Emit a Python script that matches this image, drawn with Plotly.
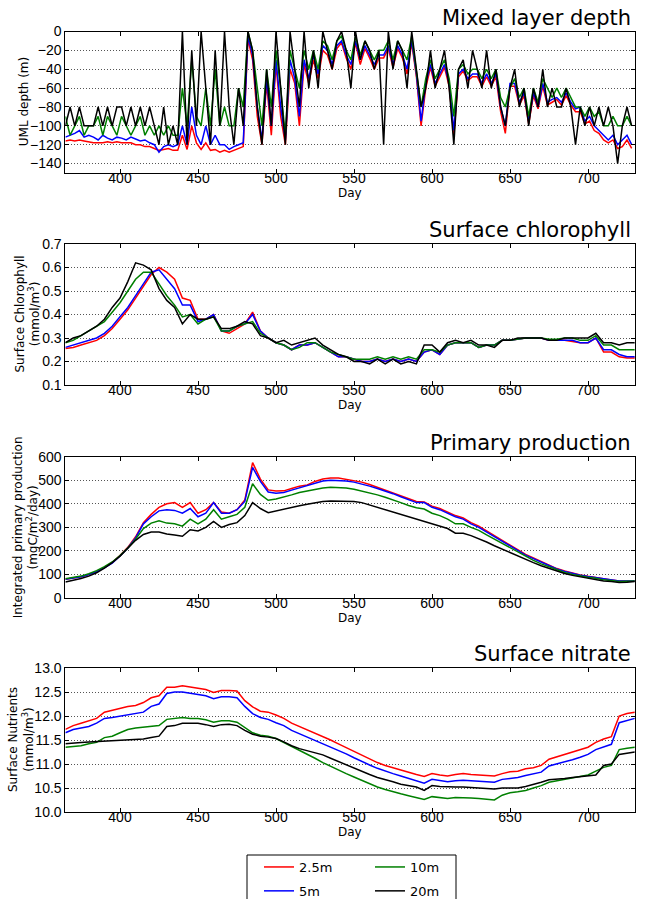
import plotly.graph_objects as go

# ---------------- data ----------------
depth_names = ["2.5m", "5m", "10m", "20m"]
depth_colors = ["#ff0000", "#0000ff", "#008000", "#000000"]

mld_days = list(range(365, 729, 3))      # 122 samples
mld_25 = [-116,-115,-116,-115,-116,-117,-118,-118,-118,-117,-118,-117,-118,-118,-118,-120,-120,-122,-122,-124,-126,-125,-124,-126,-126,
          -110,-125,-100,-118,-125,-118,-126,-125,-128,-126,-128,-126,-124,-122,
          -8,-30,-90,-120,-55,-110,-35,-90,-120,-40,-55,-100,-35,-55,-30,-50,-20,
          -25,-40,-18,-12,-28,-40,-12,-35,-18,-28,-40,-28,-28,-18,-38,-18,-28,-45,-12,
          -48,-100,-60,-38,-58,-48,-38,-58,-110,-48,-42,-52,-48,-48,-58,-48,-58,-48,-85,-108,
          -58,-58,-78,-68,-98,-68,-82,-58,-78,-75,-72,-78,-68,-78,
          -85,-85,-98,-95,-105,-108,-115,-118,-115,-124,-122,-115,-124]
mld_5 = [-112,-110,-108,-105,-112,-110,-112,-115,-110,-113,-115,-112,-113,-115,-112,-114,-116,-115,-118,-120,-128,-122,-120,-122,-120,
         -100,-120,-80,-110,-120,-100,-120,-110,-120,-120,-125,-122,-120,-118,
         -5,-25,-80,-115,-50,-100,-30,-80,-115,-30,-50,-90,-30,-50,-25,-45,-15,
         -20,-35,-15,-10,-25,-35,-10,-30,-15,-25,-35,-25,-25,-15,-35,-15,-25,-40,-10,
         -45,-95,-55,-35,-55,-45,-35,-55,-105,-45,-40,-50,-45,-45,-55,-45,-55,-45,-80,-100,
         -55,-55,-75,-65,-95,-65,-80,-55,-75,-72,-70,-75,-65,-75,
         -82,-80,-95,-90,-100,-105,-110,-115,-110,-120,-115,-110,-120]
mld_10 = [-90,-110,-100,-90,-110,-100,-100,-90,-110,-90,-100,-110,-90,-100,-110,-100,-90,-110,-100,-110,-100,-110,-100,-110,-110,
          -60,-100,-30,-90,-100,-60,-100,-40,-100,-80,-100,-100,-60,-80,
          0,-20,-60,-100,-40,-80,-20,-60,-110,-20,-40,-60,-20,-40,-20,-40,-10,
          -15,-30,-10,-5,-20,-30,-5,-25,-10,-20,-30,-20,-20,-10,-30,-10,-20,-30,-5,
          -40,-80,-50,-30,-50,-40,-30,-50,-90,-40,-35,-45,-40,-40,-50,-40,-50,-40,-70,-80,
          -60,-50,-70,-60,-90,-60,-75,-50,-60,-70,-60,-70,-60,-70,
          -80,-80,-90,-80,-90,-85,-100,-100,-90,-100,-100,-90,-100]
mld_20 = [-100,-80,-100,-80,-100,-100,-100,-80,-100,-80,-100,-80,-80,-100,-80,-100,-80,-100,-80,-100,-120,-80,-120,-100,-120,
          0,-120,-20,-100,0,-60,-120,-20,-100,0,-80,-120,-60,-100,
          0,-20,-80,-120,-40,-100,0,-60,-120,0,-40,-80,0,-60,-20,-60,0,
          -20,-40,-10,0,-20,-60,0,-30,-10,-20,-40,-20,-120,0,-40,-10,-20,-60,0,
          -40,-80,-60,-20,-60,-40,-20,-60,-120,-40,-30,-60,-20,-40,-60,-20,-60,-40,-80,-100,
          -60,-40,-80,-60,-100,-60,-80,-40,-80,-60,-80,-80,-60,-80,
          -120,-80,-100,-80,-100,-80,-100,-80,-100,-140,-100,-80,-100]

days = list(range(365, 731, 5))          # 74 samples
chl_25 = [0.255,0.26,0.27,0.28,0.29,0.31,0.34,0.38,0.42,0.47,
          0.52,0.57,0.60,0.58,0.55,0.47,0.46,0.38,0.38,0.40,
          0.33,0.32,0.34,0.36,0.41,0.33,0.30,0.28,0.27,0.25,
          0.27,0.27,0.28,0.26,0.24,0.22,0.22,0.21,0.20,0.20,
          0.21,0.20,0.21,0.20,0.21,0.20,0.24,0.25,0.23,0.27,
          0.28,0.28,0.28,0.26,0.27,0.27,0.29,0.29,0.295,0.30,
          0.30,0.30,0.29,0.29,0.29,0.285,0.28,0.28,0.30,0.24,
          0.24,0.22,0.215,0.215]
chl_5 = [0.26,0.27,0.28,0.29,0.30,0.32,0.35,0.39,0.43,0.48,
         0.53,0.58,0.59,0.55,0.51,0.44,0.44,0.37,0.38,0.40,
         0.33,0.33,0.35,0.36,0.40,0.33,0.30,0.28,0.27,0.25,
         0.27,0.27,0.28,0.26,0.24,0.22,0.22,0.21,0.20,0.20,
         0.21,0.20,0.21,0.20,0.21,0.20,0.24,0.25,0.23,0.27,
         0.28,0.28,0.28,0.26,0.27,0.27,0.29,0.29,0.295,0.30,
         0.30,0.30,0.29,0.29,0.29,0.29,0.28,0.28,0.30,0.25,
         0.25,0.23,0.22,0.22]
chl_10 = [0.28,0.29,0.31,0.33,0.35,0.37,0.41,0.45,0.50,0.55,
          0.58,0.58,0.53,0.48,0.44,0.39,0.40,0.36,0.38,0.39,
          0.33,0.33,0.35,0.36,0.37,0.32,0.30,0.28,0.27,0.25,
          0.26,0.28,0.28,0.26,0.24,0.23,0.22,0.21,0.21,0.21,
          0.22,0.21,0.22,0.21,0.22,0.21,0.25,0.25,0.24,0.27,
          0.28,0.28,0.28,0.26,0.27,0.27,0.29,0.29,0.295,0.30,
          0.30,0.30,0.295,0.295,0.30,0.30,0.29,0.29,0.31,0.27,
          0.27,0.25,0.25,0.25]
chl_20 = [0.28,0.30,0.31,0.33,0.35,0.38,0.43,0.47,0.54,0.62,
          0.61,0.59,0.51,0.46,0.43,0.36,0.40,0.38,0.38,0.39,
          0.34,0.34,0.35,0.37,0.36,0.31,0.30,0.28,0.29,0.27,
          0.28,0.29,0.30,0.27,0.25,0.23,0.22,0.20,0.20,0.19,
          0.21,0.19,0.21,0.19,0.20,0.19,0.27,0.27,0.24,0.28,
          0.29,0.28,0.29,0.27,0.27,0.26,0.29,0.29,0.30,0.30,
          0.30,0.30,0.29,0.29,0.30,0.30,0.30,0.30,0.32,0.28,
          0.28,0.27,0.28,0.28]

pp_25 = [80,85,90,100,112,130,150,180,215,260,
         320,355,385,400,405,385,405,360,375,405,
         365,360,375,416,575,505,459,454,455,465,
         475,480,495,505,510,510,505,500,492,482,
         470,460,448,435,422,410,408,390,380,365,
         350,340,320,305,285,265,245,225,205,185,
         170,155,140,125,115,105,98,92,88,82,
         77,72,72,72]
pp_5 = [80,85,90,100,112,128,148,178,212,255,
        315,345,370,375,372,360,380,345,360,405,
        360,360,375,410,555,495,450,445,448,458,
        468,475,488,497,500,500,497,492,485,475,
        465,455,443,430,418,405,405,385,375,360,
        345,335,315,300,280,260,240,220,200,182,
        167,152,138,123,113,104,97,91,87,80,
        76,72,72,72]
pp_10 = [82,87,93,103,116,133,153,180,212,250,
         295,318,328,318,315,305,335,315,335,375,
         335,345,355,385,485,440,415,420,428,438,
         448,455,462,467,470,470,467,462,455,447,
         438,428,418,405,393,383,378,360,350,335,
         315,315,300,287,268,250,230,212,193,176,
         160,145,132,118,108,100,93,88,84,77,
         74,70,71,72]
pp_20 = [68,75,83,93,107,127,150,178,210,245,
         270,280,280,272,268,262,290,285,300,325,
         300,312,320,350,405,380,362,370,378,385,
         392,398,405,410,412,412,412,410,405,395,
         385,375,365,355,345,335,325,315,305,295,
         275,275,265,252,238,222,207,192,178,163,
         150,137,125,113,104,96,90,84,80,72,
         70,66,67,70]

no3_25 = [11.72,11.80,11.85,11.90,11.95,12.08,12.12,12.15,12.20,12.22,
          12.28,12.38,12.42,12.60,12.60,12.63,12.60,12.58,12.55,12.49,
          12.53,12.53,12.52,12.32,12.19,12.10,12.08,12.02,11.95,11.85,
          11.78,11.72,11.65,11.58,11.50,11.42,11.34,11.26,11.18,11.10,
          11.03,10.97,10.92,10.87,10.83,10.78,10.74,10.80,10.77,10.75,
          10.78,10.80,10.78,10.77,10.76,10.75,10.80,10.84,10.85,10.90,
          10.92,10.97,11.10,11.15,11.20,11.25,11.30,11.35,11.45,11.52,
          11.57,12.00,12.05,12.08]
no3_5 = [11.65,11.72,11.75,11.78,11.85,11.95,11.97,12.00,12.02,12.05,
         12.08,12.20,12.25,12.47,12.50,12.50,12.47,12.45,12.42,12.36,
         12.40,12.40,12.38,12.20,12.05,11.97,11.93,11.86,11.80,11.70,
         11.63,11.57,11.50,11.43,11.36,11.29,11.21,11.13,11.05,10.98,
         10.91,10.85,10.80,10.75,10.70,10.65,10.60,10.68,10.66,10.63,
         10.65,10.66,10.65,10.64,10.63,10.62,10.68,10.70,10.72,10.76,
         10.79,10.83,10.96,11.00,11.04,11.09,11.14,11.20,11.30,11.36,
         11.41,11.86,11.91,11.95]
no3_10 = [11.35,11.37,11.38,11.42,11.45,11.55,11.58,11.65,11.72,11.75,
          11.77,11.78,11.80,11.93,11.95,11.97,11.95,11.95,11.92,11.87,
          11.90,11.90,11.87,11.76,11.65,11.60,11.58,11.53,11.45,11.37,
          11.29,11.21,11.12,11.03,10.95,10.88,10.80,10.73,10.66,10.60,
          10.52,10.47,10.42,10.38,10.34,10.30,10.26,10.32,10.30,10.28,
          10.30,10.30,10.29,10.28,10.27,10.25,10.35,10.40,10.42,10.45,
          10.50,10.55,10.62,10.65,10.68,10.72,10.75,10.77,10.85,10.93,
          10.97,11.30,11.33,11.35]
no3_20 = [11.42,11.44,11.45,11.46,11.47,11.48,11.49,11.50,11.50,11.51,
          11.52,11.55,11.58,11.78,11.80,11.85,11.85,11.85,11.82,11.78,
          11.82,11.83,11.80,11.70,11.62,11.58,11.56,11.53,11.46,11.38,
          11.32,11.28,11.24,11.19,11.12,11.05,10.98,10.91,10.84,10.78,
          10.72,10.68,10.63,10.58,10.55,10.52,10.45,10.55,10.53,10.52,
          10.52,10.52,10.51,10.50,10.50,10.48,10.50,10.50,10.50,10.53,
          10.57,10.62,10.67,10.68,10.70,10.72,10.74,10.75,10.77,10.97,
          11.00,11.20,11.23,11.25]

titles = ["Mixed layer depth", "Surface chlorophyll", "Primary production", "Surface nitrate"]
ylabels = ["UML depth (m)",
           "Surface Chlorophyll<br>(mmol/m<sup>3</sup>)",
           "Integrated primary production<br>(mgC/m<sup>2</sup>/day)",
           "Surface Nutrients<br>(mmol/m<sup>3</sup>)"]
x_ticks = [400, 450, 500, 550, 600, 650, 700]

# ---------------- layout geometry (pixels) ----------------
W, H = 646, 899
PX_L, PX_R = 65.4, 634.8
panels_px = [(31.5, 173.0), (244.0, 385.0), (456.7, 598.0), (668.0, 812.0)]
ylab_x = [24, 28, 26, 21]
yranges = [[-150, 0], [0.1, 0.7], [0, 600], [10.0, 13.0]]
ydticks = [20, 0.1, 100, 0.5]
yfmts = ["d", ".1f", "d", ".1f"]

panel_data = [
    (mld_days, [mld_25, mld_5, mld_10, mld_20]),
    (days, [chl_25, chl_5, chl_10, chl_20]),
    (days, [pp_25, pp_5, pp_10, pp_20]),
    (days, [no3_25, no3_5, no3_10, no3_20]),
]

def fx(px):
    return px / W

def fy(py):
    return 1 - py / H

fig = go.Figure()
tick_font = dict(family="Liberation Sans Narrow, Liberation Sans, Arial", size=14, color="black")
lab_font = dict(family="DejaVu Sans", size=12, color="black")

annotations = []
for p, (xd, series) in enumerate(panel_data):
    sfx = "" if p == 0 else str(p + 1)
    for k, ys in enumerate(series):
        fig.add_trace(go.Scatter(
            x=xd, y=ys, mode="lines", name=depth_names[k],
            line=dict(color=depth_colors[k], width=1.5),
            xaxis="x" + sfx, yaxis="y" + sfx,
            legendgroup=depth_names[k],
            showlegend=(p == 0),
            legend="legend" if k < 2 else "legend2",
        ))
    top, bot = panels_px[p]
    common = dict(showline=True, linecolor="black", linewidth=1, mirror="allticks",
                  ticks="inside", ticklen=4, tickcolor="black", tickfont=tick_font,
                  zeroline=False)
    fig.layout["xaxis" + sfx] = dict(
        domain=[fx(PX_L), fx(PX_R)], anchor="y" + sfx, range=[365, 730],
        tickvals=x_ticks, showgrid=False, ticklabelstandoff=-8, **common)
    fig.layout["yaxis" + sfx] = dict(
        domain=[fy(bot), fy(top)], anchor="x" + sfx, range=yranges[p],
        dtick=ydticks[p], tickformat=yfmts[p], showgrid=True,
        gridcolor="#555555", gridwidth=1, griddash="1px,2px", **common)
    # panel title
    annotations.append(dict(text=titles[p], x=fx(633), y=fy(top), xref="paper", yref="paper",
                            xanchor="right", yanchor="bottom", showarrow=False,
                            font=dict(family="DejaVu Sans", size=21, color="black")))
    # y label
    annotations.append(dict(text=ylabels[p], x=fx(ylab_x[p]), y=fy((top + bot) / 2),
                            xref="paper", yref="paper", xanchor="center", yanchor="middle",
                            textangle=-90, showarrow=False, font=lab_font))
    # x label
    annotations.append(dict(text="Day", x=fx(350), y=fy(bot + 20), xref="paper", yref="paper",
                            xanchor="center", yanchor="middle", showarrow=False, font=lab_font))

leg_font = dict(family="DejaVu Sans", size=13, color="black")
fig.update_layout(
    width=W, height=H, margin=dict(l=0, r=0, t=0, b=0, autoexpand=False),
    paper_bgcolor="white", plot_bgcolor="white",
    annotations=annotations,
    legend=dict(x=fx(259), y=fy(852), xanchor="left", yanchor="top", orientation="v",
                xref="container", yref="container",
                font=leg_font, bgcolor="rgba(0,0,0,0)", borderwidth=0, tracegroupgap=4),
    legend2=dict(x=fx(370), y=fy(852), xanchor="left", yanchor="top", orientation="v",
                 xref="container", yref="container",
                 font=leg_font, bgcolor="rgba(0,0,0,0)", borderwidth=0, tracegroupgap=4),
    shapes=[dict(type="rect", xref="paper", yref="paper",
                 x0=fx(247), x1=fx(456), y0=fy(855), y1=fy(905),
                 line=dict(color="black", width=1), fillcolor="rgba(0,0,0,0)")],
)

fig.write_html("out.html")
